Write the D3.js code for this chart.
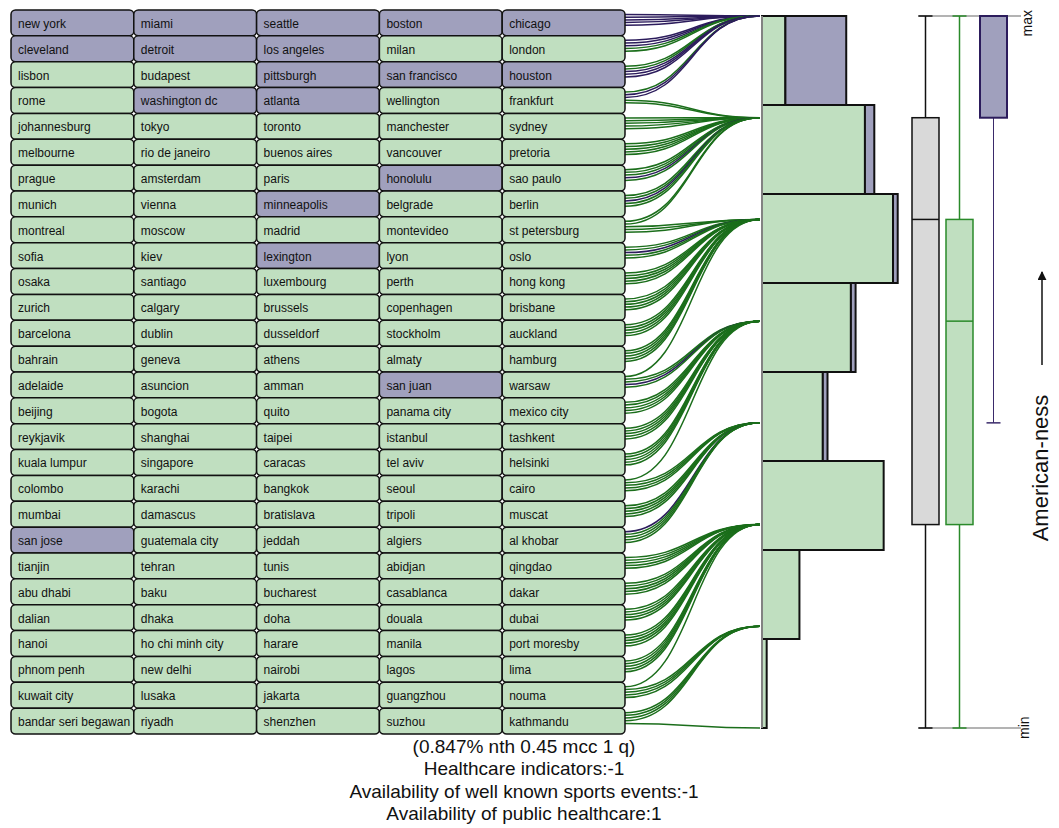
<!DOCTYPE html>
<html><head><meta charset="utf-8">
<script src="https://cdn.jsdelivr.net/npm/d3@7"></script>
<style>body{margin:0;background:#fff;} svg{display:block;font-family:"Liberation Sans",Arial,sans-serif;}</style>
</head><body><svg id="chart" width="1059" height="828"></svg>
<script>
// ---- data ----
const cities = [
"new york","miami","seattle","boston","chicago",
"cleveland","detroit","los angeles","milan","london",
"lisbon","budapest","pittsburgh","san francisco","houston",
"rome","washington dc","atlanta","wellington","frankfurt",
"johannesburg","tokyo","toronto","manchester","sydney",
"melbourne","rio de janeiro","buenos aires","vancouver","pretoria",
"prague","amsterdam","paris","honolulu","sao paulo",
"munich","vienna","minneapolis","belgrade","berlin",
"montreal","moscow","madrid","montevideo","st petersburg",
"sofia","kiev","lexington","lyon","oslo",
"osaka","santiago","luxembourg","perth","hong kong",
"zurich","calgary","brussels","copenhagen","brisbane",
"barcelona","dublin","dusseldorf","stockholm","auckland",
"bahrain","geneva","athens","almaty","hamburg",
"adelaide","asuncion","amman","san juan","warsaw",
"beijing","bogota","quito","panama city","mexico city",
"reykjavik","shanghai","taipei","istanbul","tashkent",
"kuala lumpur","singapore","caracas","tel aviv","helsinki",
"colombo","karachi","bangkok","seoul","cairo",
"mumbai","damascus","bratislava","tripoli","muscat",
"san jose","guatemala city","jeddah","algiers","al khobar",
"tianjin","tehran","tunis","abidjan","qingdao",
"abu dhabi","baku","bucharest","casablanca","dakar",
"dalian","dhaka","doha","douala","dubai",
"hanoi","ho chi minh city","harare","manila","port moresby",
"phnom penh","new delhi","nairobi","lagos","lima",
"kuwait city","lusaka","jakarta","guangzhou","nouma",
"bandar seri begawan","riyadh","shenzhen","suzhou","kathmandu"];

const americanCities = ["new york","miami","seattle","boston","chicago","cleveland","detroit",
"los angeles","pittsburgh","san francisco","houston","washington dc","atlanta","honolulu",
"minneapolis","lexington","san juan","san jose"];

// number of cities (in rank order) at each American-ness level, from highest level (7) down to 0
const levels = [7,6,5,4,3,2,1,0];
const levelSizes = [18,24,29,20,14,26,8,1];

// box plot statistics (in American-ness levels)
const boxGroups = ["all","other","american"];
const boxMin    = [0,0,3];
const boxQ1     = [2,2,6];
const boxMedian = [5,4,7];
const boxQ3     = [6,5,7];
const boxMax    = [7,7,7];

const captionLines = ["(0.847% nth 0.45 mcc 1 q)","Healthcare indicators:-1",
"Availability of well known sports events:-1","Availability of public healthcare:1"];

// ---- styles ----
const PURPLE_FILL = "#a0a0bd", GREEN_FILL = "#c0dfc0";
const PURPLE_LINK = "#2c1c5c", GREEN_LINK = "#1b6e1b";
const svg = d3.select("#chart");

// assign each city its level
const cityLevel = [];
levelSizes.forEach((n,i)=>{ for(let k=0;k<n;k++) cityLevel.push(levels[i]); });
const isAm = c => americanCities.includes(c);
const data = cities.map((c,i)=>({name:c, i, row:Math.floor(i/5), col:i%5, level:cityLevel[i], am:isAm(c)}));

// ---- scales ----
const NCOL = 5, NROW = Math.ceil(cities.length/5);
const xCol = d3.scaleBand().domain(d3.range(NCOL)).range([11,625]);
const yRow = d3.scaleBand().domain(d3.range(NROW)).range([10,734]);
const yLevel = d3.scaleLinear().domain([7,0]).range([16,728]);
const yBin = d3.scaleBand().domain(levels).range([16,728]);
const xCount = d3.scaleLinear().domain([0,29]).range([762,897.7]);
const xBox = d3.scaleBand().domain(boxGroups).range([912,1007]).paddingInner(0.206).paddingOuter(0);

// ---- links ----
const link = d3.linkHorizontal().x(d=>d[0]).y(d=>d[1]);
svg.append("g").attr("fill","none").selectAll("path").data(data).join("path")
  .attr("d", d=>link({source:[xCol.range()[1], yRow(d.row)+4.5+d.col*2.7], target:[760, yLevel(d.level)]}))
  .attr("stroke", d=>d.am?PURPLE_LINK:GREEN_LINK).attr("stroke-width",1.5);

// ---- grid cells ----
const cell = svg.append("g").selectAll("g").data(data).join("g")
  .attr("transform", d=>`translate(${xCol(d.col)},${yRow(d.row)})`);
cell.append("rect").attr("width", xCol.bandwidth()).attr("height", yRow.bandwidth())
  .attr("rx",4.5).attr("ry",4.5)
  .attr("fill", d=>d.am?PURPLE_FILL:GREEN_FILL).attr("stroke","#111").attr("stroke-width",1.5);
cell.append("text").attr("x",7).attr("y", yRow.bandwidth()/2+5)
  .attr("font-size",12).attr("fill","#111").text(d=>d.name);

// ---- histogram ----
const bins = levels.map(l=>({level:l,
  other: data.filter(d=>d.level===l && !d.am).length,
  am: data.filter(d=>d.level===l && d.am).length}));
const hg = svg.append("g");
hg.selectAll("rect.o").data(bins).join("rect").attr("class","o")
  .attr("x", xCount(0)).attr("y", d=>yBin(d.level))
  .attr("width", d=>xCount(d.other)-xCount(0)).attr("height", yBin.bandwidth())
  .attr("fill", GREEN_FILL).attr("stroke","#111").attr("stroke-width",2);
hg.selectAll("rect.a").data(bins.filter(d=>d.am>0)).join("rect").attr("class","a")
  .attr("x", d=>xCount(d.other)).attr("y", d=>yBin(d.level))
  .attr("width", d=>xCount(d.other+d.am)-xCount(d.other)).attr("height", yBin.bandwidth())
  .attr("fill", PURPLE_FILL).attr("stroke","#111").attr("stroke-width",2);
hg.append("line").attr("x1",xCount(0)).attr("x2",xCount(0))
  .attr("y1",yLevel(7)).attr("y2",yLevel(0)).attr("stroke","#a8a8a8").attr("stroke-width",1.5);

// ---- box plots ----
const bg = svg.append("g");
[7,0].forEach(l=>{
  bg.append("line").attr("x1", xBox("all")+6).attr("x2", 1021)
    .attr("y1", yLevel(l)).attr("y2", yLevel(l)).attr("stroke","#9a9a9a").attr("stroke-width",1.5);
});
const boxStyle = {
  all:     {fill:"#d9d9d9", stroke:"#111", whisk:"#111", w:1.5},
  other:   {fill:GREEN_FILL, stroke:"#2a8a2a", whisk:"#2a8a2a", w:1.5},
  american:{fill:PURPLE_FILL, stroke:"#2c1c5c", whisk:"#3a2a6a", w:1.5}
};
boxGroups.forEach((g,i)=>{
  const s = boxStyle[g], x0 = xBox(g), bw = xBox.bandwidth(), cx = x0+bw/2;
  bg.append("line").attr("x1",cx).attr("x2",cx).attr("y1",yLevel(boxMax[i])).attr("y2",yLevel(boxQ3[i]))
    .attr("stroke",s.whisk).attr("stroke-width",g==="american"?1:1.5);
  bg.append("line").attr("x1",cx).attr("x2",cx).attr("y1",yLevel(boxQ1[i])).attr("y2",yLevel(boxMin[i]))
    .attr("stroke",s.whisk).attr("stroke-width",g==="american"?1:1.5);
  [boxMax[i],boxMin[i]].forEach(v=>{
    bg.append("line").attr("x1",cx-7).attr("x2",cx+7).attr("y1",yLevel(v)).attr("y2",yLevel(v))
      .attr("stroke",s.whisk).attr("stroke-width",1.5);
  });
  bg.append("rect").attr("x",x0).attr("width",bw)
    .attr("y",yLevel(boxQ3[i])).attr("height",yLevel(boxQ1[i])-yLevel(boxQ3[i]))
    .attr("fill",s.fill).attr("stroke",s.stroke).attr("stroke-width",g==="american"?2:s.w);
  bg.append("line").attr("x1",x0).attr("x2",x0+bw).attr("y1",yLevel(boxMedian[i])).attr("y2",yLevel(boxMedian[i]))
    .attr("stroke",s.stroke).attr("stroke-width",1.5);
});
bg.append("text").attr("transform",`translate(1032,${yLevel(7)-6}) rotate(-90)`)
  .attr("text-anchor","end").attr("font-size",14).attr("fill","#111").text("max");
bg.append("text").attr("transform",`translate(1029,${yLevel(0)+11}) rotate(-90)`)
  .attr("text-anchor","start").attr("font-size",14).attr("fill","#111").text("min");

// axis label + arrow
svg.append("defs").append("marker").attr("id","arr").attr("viewBox","0 0 10 10")
  .attr("refX",9).attr("refY",5).attr("markerWidth",6).attr("markerHeight",6)
  .attr("markerUnits","strokeWidth").attr("orient","auto")
  .append("path").attr("d","M0,0L10,5L0,10z").attr("fill","#111");
svg.append("line").attr("x1",1042).attr("x2",1042).attr("y1",365).attr("y2",272)
  .attr("stroke","#111").attr("stroke-width",1.5).attr("marker-end","url(#arr)");
svg.append("text").attr("transform","translate(1048,468) rotate(-90)")
  .attr("text-anchor","middle").attr("font-size",22).attr("fill","#111").text("American-ness");

// caption
svg.append("g").selectAll("text").data(captionLines).join("text")
  .attr("x",524).attr("y",(d,i)=>753+i*22.4).attr("text-anchor","middle")
  .attr("font-size",19).attr("fill","#111").text(d=>d);
</script></body></html>
